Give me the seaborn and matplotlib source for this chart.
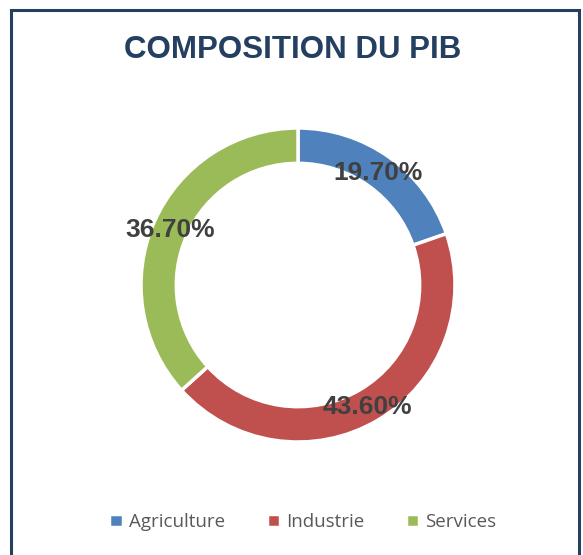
import matplotlib.pyplot as plt
import matplotlib.patches as patches
import seaborn as sns

sns.set_theme(style='white')
plt.rcParams['font.family'] = ['Liberation Sans', 'DejaVu Sans']

secteurs = ['Agriculture', 'Industrie', 'Services']
parts = [19.7, 43.6, 36.7]
couleurs = ['#4F81BD', '#C0504D', '#9BBB59']

fig = plt.figure(figsize=(5.83, 5.55), dpi=100)
fig.patch.set_facecolor('white')

# cadre autour du graphique (coupé en bas)
cadre = patches.Rectangle((11/583, -0.05), 568/583, 1.05 - 10/555, transform=fig.transFigure,
                          fill=False, edgecolor='#243F60', linewidth=2.2)
fig.patches.append(cadre)

fig.text(293/583, 1 - 50/555, 'COMPOSITION DU PIB', ha='center', va='center',
         fontsize=22.5, fontweight='bold', color='#243F60')

# axe carré centré sur l'anneau
r = 157
cx, cy = 298, 285
ax = fig.add_axes([(cx - r)/583, 1 - (cy + r)/555, 2*r/583, 2*r/555])
wedges, _ = ax.pie(parts, colors=couleurs, startangle=90, counterclock=False,
                   radius=1, wedgeprops=dict(width=0.225, edgecolor='white', linewidth=2.5))
ax.set_xlim(-1, 1)
ax.set_ylim(-1, 1)
ax.set_aspect('auto')
ax.axis('off')

# étiquettes de valeurs
pos = [(378, 173), (367, 407), (170, 230)]
for (px, py), v in zip(pos, parts):
    fig.text(px/583, 1 - py/555, f'{v:.2f}%', ha='center', va='center',
             fontsize=19, fontweight='bold', color='#404040')

leg = fig.legend(wedges, secteurs, loc='center', bbox_to_anchor=(303/583, 1 - 522/555),
                 ncol=3, frameon=False, handlelength=0.7, handleheight=0.7,
                 columnspacing=2.2, handletextpad=0.35,
                 prop={'family': 'Open Sans', 'size': 13.5})
for t in leg.get_texts():
    t.set_color('#595959')

plt.savefig('out.png', dpi=100)
